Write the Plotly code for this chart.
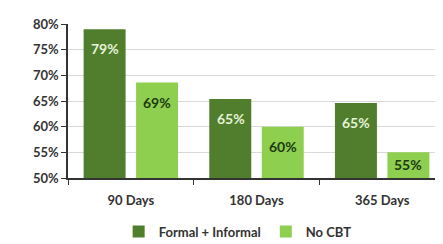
import plotly.graph_objects as go

categories = ["90 Days", "180 Days", "365 Days"]
formal_informal = [0.79, 0.654, 0.646]
no_cbt = [0.686, 0.60, 0.55]
series_names = ["Formal + Informal", "No CBT"]
y_ticks = [0.50, 0.55, 0.60, 0.65, 0.70, 0.75, 0.80]
y_tick_labels = ["50%", "55%", "60%", "65%", "70%", "75%", "80%"]
y_min, y_max = 0.50, 0.80

dark = "#507e2c"
light = "#8fcf4f"
font_family = "Lato, 'Open Sans', sans-serif"

fig = go.Figure()
fig.add_trace(go.Bar(
    x=categories, y=formal_informal, name=series_names[0],
    marker=dict(color=dark, line=dict(width=0)),
))
fig.add_trace(go.Bar(
    x=categories, y=no_cbt, name=series_names[1],
    marker=dict(color=light, line=dict(width=0)),
))

annotations = []
for series, xshift, color in [(formal_informal, -26, "#e6f2d9"), (no_cbt, 26, "#1d3a10")]:
    for cat, v in zip(categories, series):
        if v - y_min < 0.07:
            # short bar: label sits at the middle of the bar
            pos = dict(y=(v + y_min) / 2, yanchor="middle", yshift=1)
        else:
            pos = dict(y=v, yanchor="top", yshift=-9)
        annotations.append(dict(
            x=cat, xref="x", yref="y", text=f"{v:.0%}", showarrow=False,
            xshift=xshift, xanchor="center",
            font=dict(color=color, size=14, family=font_family, weight="bold"),
            **pos,
        ))

fig.update_layout(
    width=443, height=244,
    margin=dict(l=60, r=6, t=16, b=66),
    paper_bgcolor="white", plot_bgcolor="white",
    barmode="group", bargap=0.165, bargroupgap=0.2,
    font=dict(family=font_family, size=13, color="#333333"),
    showlegend=True,
    legend=dict(orientation="h", x=0.45, xanchor="center", y=-0.25, yanchor="top",
                font=dict(size=13, color="#333333", weight="bold"),
                itemwidth=30, traceorder="normal"),
    annotations=annotations,
)
fig.update_xaxes(
    showline=True, linecolor="#333333", linewidth=1.5,
    ticks="outside", tickson="boundaries", ticklen=5, tickcolor="#333333",
    tickfont=dict(size=13, color="#333333", weight="bold"),
    ticklabelstandoff=10,
    showgrid=False,
)
fig.update_yaxes(
    range=[y_min, y_max], tickvals=y_ticks, ticktext=y_tick_labels,
    showline=True, linecolor="#333333", linewidth=1.5,
    ticks="outside", ticklen=5, tickcolor="#333333",
    tickfont=dict(size=13, color="#333333", weight="bold"),
    showgrid=True, gridcolor="#d9d9d9", gridwidth=1,
    zeroline=False,
)

fig.write_html("out.html")
